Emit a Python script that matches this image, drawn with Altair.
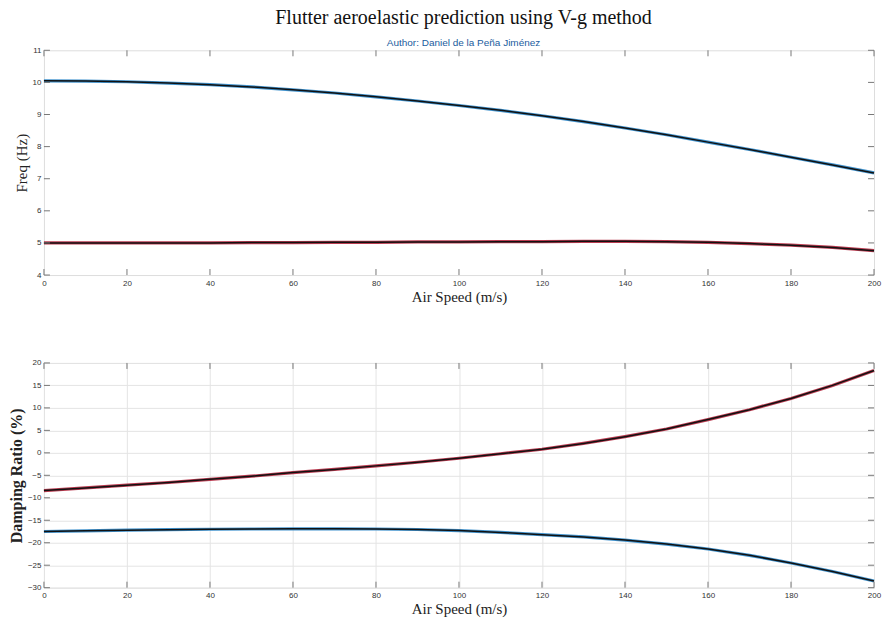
import altair as alt
import pandas as pd

speed = [0, 10, 20, 30, 40, 50, 60, 70, 80, 90, 100, 110, 120, 130, 140, 150, 160, 170, 180, 190, 200]
freq_mode1 = [10.05, 10.04, 10.02, 9.98, 9.93, 9.86, 9.77, 9.67, 9.55, 9.42, 9.28, 9.13, 8.96, 8.78, 8.58, 8.37, 8.14, 7.91, 7.67, 7.43, 7.18]
freq_mode2 = [5.00, 5.00, 5.00, 5.00, 5.00, 5.01, 5.01, 5.02, 5.02, 5.03, 5.03, 5.04, 5.04, 5.05, 5.05, 5.04, 5.02, 4.98, 4.93, 4.86, 4.76]
damp_mode1 = [-17.5, -17.35, -17.2, -17.1, -17.0, -16.95, -16.9, -16.9, -16.95, -17.05, -17.3, -17.7, -18.2, -18.7, -19.4, -20.3, -21.4, -22.8, -24.5, -26.4, -28.5]
damp_mode2 = [-8.4, -7.8, -7.2, -6.6, -5.9, -5.2, -4.4, -3.7, -2.9, -2.1, -1.2, -0.2, 0.8, 2.1, 3.6, 5.3, 7.4, 9.6, 12.1, 15.0, 18.3]

x_ticks = [0, 20, 40, 60, 80, 100, 120, 140, 160, 180, 200]
freq_ticks = [4, 5, 6, 7, 8, 9, 10, 11]
damp_ticks = [-30, -25, -20, -15, -10, -5, 0, 5, 10, 15, 20]

mode_colors = ["#2b86c8", "#b3263d"]

W, H = 831, 225
TL = 6

df_freq = pd.DataFrame({
    "speed": speed * 2,
    "value": freq_mode1 + freq_mode2,
    "mode": ["Mode 1"] * len(speed) + ["Mode 2"] * len(speed),
})
df_damp = pd.DataFrame({
    "speed": speed * 2,
    "value": damp_mode1 + damp_mode2,
    "mode": ["Mode 1"] * len(speed) + ["Mode 2"] * len(speed),
})
df_xt = pd.DataFrame({"t": x_ticks})

serif = "Liberation Serif"
sans = "Liberation Sans"


def panel(df, yticks, ydom, ytitle, grid, ybold):
    xs = alt.Scale(domain=[0, 200], nice=False)
    ys = alt.Scale(domain=ydom, nice=False)
    xax = alt.Axis(values=x_ticks, title="Air Speed (m/s)", grid=grid, gridColor="#e4e4e4",
                   domain=False, ticks=False, labelPadding=4, labelFont=sans, labelFontSize=8,
                   labelColor="#333", labelOverlap=False, labelFlush=False,
                   titleFont=serif, titleFontSize=15, titleFontWeight="normal",
                   titleColor="#222", titlePadding=2)
    yax = alt.Axis(values=yticks, title=ytitle, grid=grid, gridColor="#e4e4e4",
                   domain=False, ticks=False, labelPadding=3, labelFont=sans, labelFontSize=8,
                   labelColor="#333", labelOverlap=False, labelFlush=False,
                   titleFont=serif, titleFontSize=16 if ybold else 15,
                   titleFontWeight="bold" if ybold else "normal", titleColor="#222", titlePadding=3)
    base = alt.Chart(df)
    halo = base.mark_line(strokeWidth=3.2, opacity=0.9).encode(
        x=alt.X("speed:Q", scale=xs, axis=xax),
        y=alt.Y("value:Q", scale=ys, axis=yax),
        color=alt.Color("mode:N", scale=alt.Scale(domain=["Mode 1", "Mode 2"], range=mode_colors), legend=None),
        detail="mode:N",
    )
    core = base.mark_line(strokeWidth=1.5, color="#111").encode(
        x=alt.X("speed:Q", scale=xs, axis=xax),
        y=alt.Y("value:Q", scale=ys, axis=yax),
        detail="mode:N",
    )
    dft_y = pd.DataFrame({"t": yticks})
    tick_top = alt.Chart(df_xt).mark_rule(color="#777", strokeWidth=1).encode(
        x=alt.X("t:Q", scale=xs, axis=xax), y=alt.value(0), y2=alt.value(TL))
    tick_bot = alt.Chart(df_xt).mark_rule(color="#777", strokeWidth=1).encode(
        x=alt.X("t:Q", scale=xs, axis=xax), y=alt.value(H), y2=alt.value(H - TL))
    tick_l = alt.Chart(dft_y).mark_rule(color="#777", strokeWidth=1).encode(
        y=alt.Y("t:Q", scale=ys, axis=yax), x=alt.value(0), x2=alt.value(TL))
    tick_r = alt.Chart(dft_y).mark_rule(color="#777", strokeWidth=1).encode(
        y=alt.Y("t:Q", scale=ys, axis=yax), x=alt.value(W - TL), x2=alt.value(W))
    return alt.layer(halo, core, tick_top, tick_bot, tick_l, tick_r).properties(width=W, height=H)


top = panel(df_freq, freq_ticks, [4, 11], "Freq (Hz)", False, False)
bottom = panel(df_damp, damp_ticks, [-30, 20], "Damping Ratio (%)", True, True)

chart = alt.vconcat(top, bottom, spacing=53).properties(
    title=alt.TitleParams(
        "Flutter aeroelastic prediction using V-g method",
        subtitle="Author: Daniel de la Peña Jiménez",
        font=serif, fontSize=20, fontWeight="normal", color="#111",
        subtitleFont=sans, subtitleFontSize=10, subtitleColor="#1a5c9e",
        subtitlePadding=10, anchor="middle", offset=-2, dx=19,
    ),
    padding={"left": 7, "top": 7, "right": 0, "bottom": 0},
).configure_view(stroke="#8a8a8a", strokeWidth=1.2).configure(background="white")

chart.save("out.html", embed_options={"renderer": "svg", "actions": False})
